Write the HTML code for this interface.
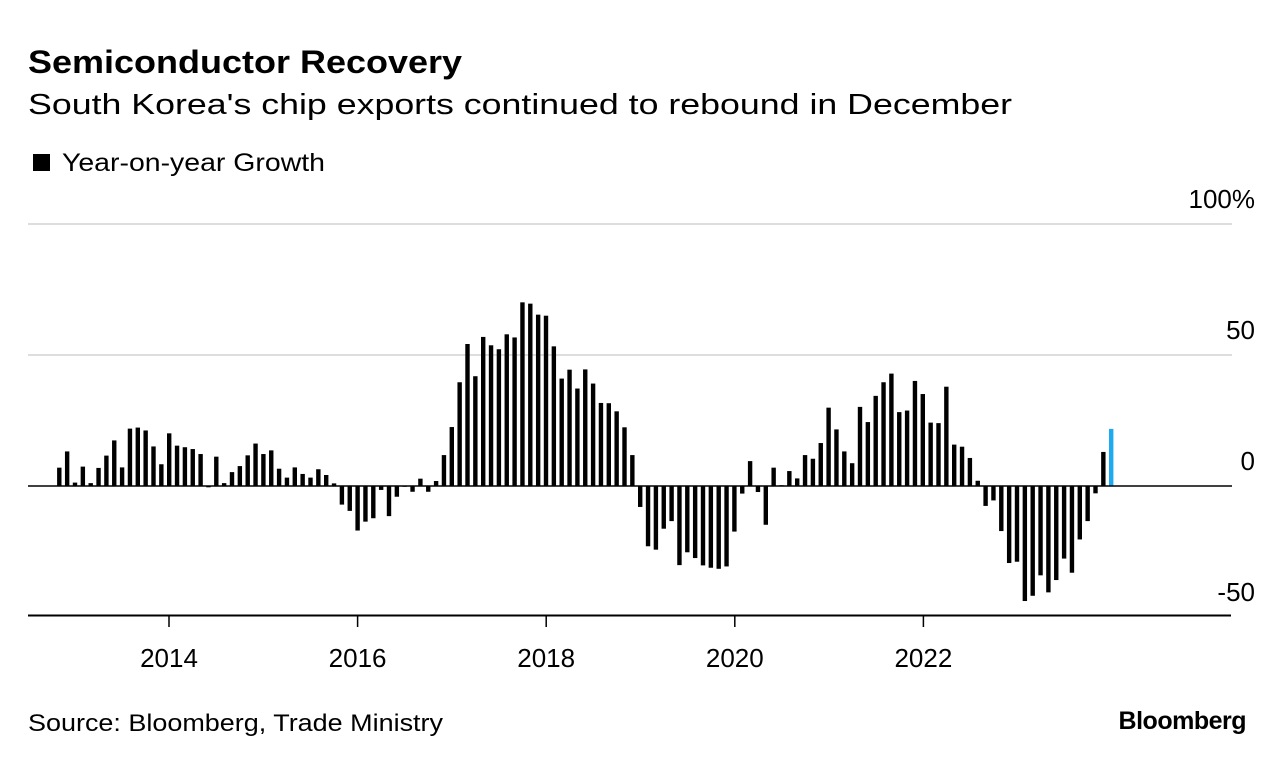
<!DOCTYPE html>
<html><head><meta charset="utf-8"><style>
body{margin:0;background:#fff;width:1285px;height:764px;overflow:hidden;font-family:"Liberation Sans",sans-serif}
</style></head><body>
<svg width="1285" height="764" style="position:absolute;left:0;top:0">
<text x="28" y="73" font-size="32" font-weight="bold" fill="#000" textLength="434" lengthAdjust="spacingAndGlyphs">Semiconductor Recovery</text>
<text x="28" y="114" font-size="29" fill="#000" textLength="984" lengthAdjust="spacingAndGlyphs">South Korea's chip exports continued to rebound in December</text>
<rect x="33" y="154" width="17" height="17" fill="#000"/>
<text x="62" y="171" font-size="25" fill="#000" textLength="263" lengthAdjust="spacingAndGlyphs">Year-on-year Growth</text>
<g id="grid"></g><g id="bars"></g><g id="axes"></g>
<text x="28" y="731" font-size="24" fill="#000" textLength="415" lengthAdjust="spacingAndGlyphs">Source: Bloomberg, Trade Ministry</text>
<text x="1246" y="729" font-size="25" font-weight="bold" fill="#000" text-anchor="end" letter-spacing="-0.5">Bloomberg</text>
</svg>
<script>
const values=[7.0,13.2,1.3,7.4,1.1,6.9,11.6,17.4,7.1,21.9,22.3,21.2,15.1,8.3,20.1,15.4,14.8,14.1,12.2,-0.5,11.2,1.1,5.3,7.6,11.7,16.2,12.2,13.6,6.6,3.2,7.1,4.6,3.2,6.4,4.2,1.0,-7.1,-9.5,-17.0,-13.6,-12.3,-1.5,-11.5,-4.1,-0.3,-2.2,2.8,-2.2,1.9,
11.8,22.5,39.6,54.2,41.9,56.9,53.7,52.2,57.9,56.7,70.1,69.6,65.4,65.0,53.3,41.0,44.4,37.2,44.5,39.1,31.7,31.6,28.5,22.4,11.8,-8.0,-23.0,-24.3,-16.3,-13.4,-30.2,-25.3,-27.5,-30.3,-31.2,-31.6,-30.7,-17.4,-2.9,9.5,-2.3,
-14.8,7.0,0.3,5.7,2.9,11.8,10.4,16.4,29.9,21.6,13.2,8.7,30.2,24.4,34.4,39.6,42.9,28.2,28.8,40.1,35.1,24.2,24.0,37.9,15.8,15.0,10.7,2.0,-7.6,-5.5,-17.2,-29.4,-28.9,-43.9,-41.9,-34.1,-40.6,-35.9,-27.7,-33.1,-20.4,-13.4,-2.8,13.0,21.8];
const yTicks=[100,50,0,-50];
const yTickLabels=["100%","50","0","-50"];
const years=[2014,2016,2018,2020,2022];
const NS="http://www.w3.org/2000/svg";
function y(v){return 486-v*2.62;}
function xi(i){return 59.3+i*7.85;}
function xYear(yr){return 169+(yr-2014)*94.3;}
function mk(tag,attrs,parent){const e=document.createElementNS(NS,tag);for(const k in attrs)e.setAttribute(k,attrs[k]);document.getElementById(parent).appendChild(e);return e;}
yTicks.forEach((t,k)=>{
  if(t>0){const l=mk('line',{x1:28,x2:1232,y1:y(t),y2:y(t),stroke:'#ddd','stroke-width':2},'grid');
  
  }
  const tx=mk('text',{x:1255,y:y(t)-16,'font-size':26,'text-anchor':'end',fill:'#000'},'grid');
  tx.textContent=yTickLabels[k];
  
  
});
values.forEach((v,i)=>{
  const r=mk('rect',{x:xi(i)-2.2,width:4.4,y:Math.min(y(v),y(0)),height:Math.max(Math.abs(y(v)-y(0)),0.5),fill:i===values.length-1?'#1eaaf1':'#000'},'bars');
  
  
});
const z=mk('line',{x1:28,x2:1232,y1:y(0),y2:y(0),stroke:'#000','stroke-width':1.5},'axes');


const ax=mk('line',{x1:28,x2:1231,y1:615.5,y2:615.5,stroke:'#000','stroke-width':2},'axes');


years.forEach(yr=>{
  const t=mk('line',{x1:xYear(yr),x2:xYear(yr),y1:616,y2:627,stroke:'#000','stroke-width':1.5},'axes');
  
  
  const l=mk('text',{x:xYear(yr),y:667,'font-size':26,'text-anchor':'middle',fill:'#000'},'axes');
  l.textContent=yr;
  
  
});
</script>
</body></html>
